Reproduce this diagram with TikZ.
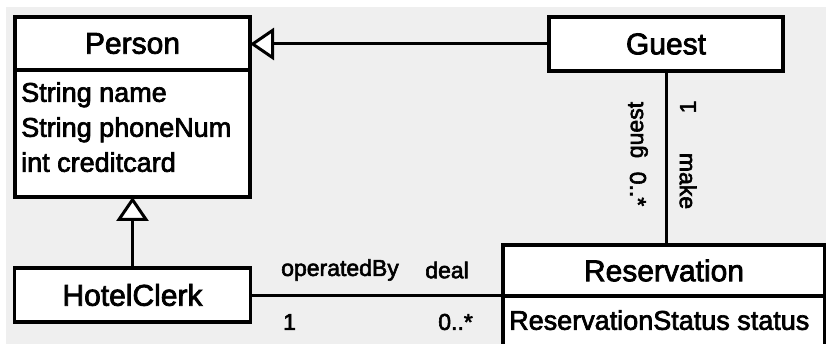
\documentclass[tikz,border=0pt]{standalone}
\usepackage{fontspec}
\setmainfont{Liberation Sans}[FakeBold=2.5]
\usepackage{tikz}
\usetikzlibrary{arrows.meta,positioning}
\definecolor{bggray}{RGB}{239,239,239}

\begin{document}
\begin{tikzpicture}[
    x=1pt, y=-1pt,
    cls/.style={draw, line width=3.5pt, fill=white, outer sep=0pt, inner sep=6pt, font=\fontsize{30}{36}\selectfont},
    attr/.style={draw, line width=3.5pt, fill=white, outer sep=0pt},
    attrtext/.style={inner sep=0pt, align=left, anchor=north west, font=\fontsize{27}{35}\selectfont},
    lbl/.style={inner sep=1pt, font=\fontsize{23}{27}\selectfont},
    assoc/.style={line width=3pt},
    gen/.style={line width=3pt, -{Triangle[length=24pt, width=32pt, fill=white]}}
]
\clip (0,0) rectangle (826,344);
\fill[white] (0,0) rectangle (826,344);
\fill[bggray] (6,7) rectangle (826,344);

% Classes
\node[cls, minimum width=235pt, minimum height=53pt] (person) at (132.5,43.5) {Person};
\node[attr, minimum width=235pt, minimum height=127pt, below=0pt of person] (personattr) {};
\node[attrtext] (personlist) at ([xshift=6pt, yshift=-12pt]personattr.north west)
    {String name\\String phoneNum\\int creditcard};
\node[cls, minimum width=234pt, minimum height=54pt] (guest) at (666,44) {Guest};
\node[cls, minimum width=236pt, minimum height=54pt] (clerk) at (132.5,295) {HotelClerk};
\node[cls, minimum width=322pt, minimum height=51pt] (resv) at (664,270.5) {Reservation};
\node[attr, minimum width=322pt, minimum height=52pt, below=0pt of resv] (resvattr) {};
\node[attrtext] (resvlist) at ([xshift=6pt, yshift=-14pt]resvattr.north west) {ReservationStatus status};

% Generalizations
\draw[gen] (guest.west) -- (guest.west -| person.east);
\draw[gen] (clerk.north) -- (personattr.south);

% Associations
\draw[assoc] (clerk.east) -- (clerk.east -| resv.west);
\draw[assoc] (guest.south) -- (guest.south |- resv.north);

\node[lbl, anchor=west] (opby) at (280,270) {operatedBy};
\node[lbl, anchor=east] (deal) at (470,270) {deal};
\node[lbl, anchor=west] (clerkmult) at (282,322) {1};
\node[lbl, anchor=east] (dealmult) at (474,322) {0..*};

\node[lbl, rotate=90] (guestrole) at (638,130) {guest};
\node[lbl, rotate=-90] (guestmult) at (638,189) {0..*};
\node[lbl, rotate=90] (makemult) at (688,107) {1};
\node[lbl, rotate=-90] (make) at (688,181) {make};

\end{tikzpicture}
\end{document}
